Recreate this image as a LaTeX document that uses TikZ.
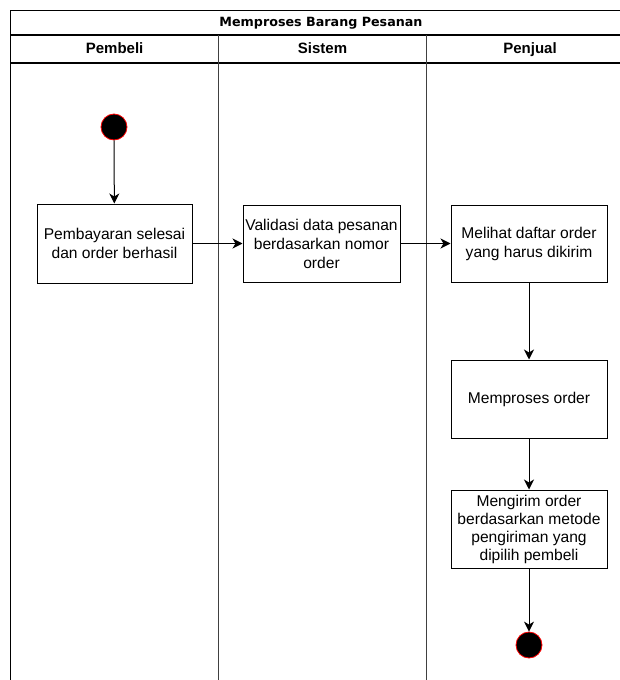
\documentclass[tikz,border=0pt]{standalone}
\usepackage{fontspec}
\setmainfont{Liberation Sans}
\newfontfamily\titlefont{DejaVu Sans}
\usetikzlibrary{arrows.meta}
\begin{document}
\begin{tikzpicture}[x=1pt,y=-1pt,
  frame/.style={draw=black, line width=1.3pt},
  lane/.style={draw=black!75, line width=1.1pt},
  action/.style={draw=black, line width=1pt, fill=white, minimum width=156pt, minimum height=78pt,
    inner sep=0pt, align=center, font=\fontsize{15.6pt}{19pt}\selectfont},
  lanehead/.style={font=\fontsize{15pt}{18pt}\selectfont\bfseries, text height=11pt, text depth=3.5pt, inner sep=0pt},
  startend/.style={circle, fill=black, draw=red, line width=0.8pt, minimum size=26pt, inner sep=0pt},
  flow/.style={draw=black, line width=1pt, -{Stealth[length=10pt, width=10pt, inset=3pt]}}
]
\clip (0,0) rectangle (620,680);
\fill[white] (0,0) rectangle (620,680);

% pool frame, title row and lane header row
\draw[frame] (10.7,10.7) rectangle (634,700);
\draw[frame] (10.7,35) -- (634,35);
\draw[frame] (10.7,63) -- (634,63);
\draw[lane] (218.6,35) -- (218.6,700);
\draw[lane] (426.3,35) -- (426.3,700);

\node[font=\titlefont\fontsize{12.7pt}{15pt}\selectfont\bfseries] (title) at (321,23) {Memproses Barang Pesanan};
\node[lanehead] (h1) at (114.6,49.5) {Pembeli};
\node[lanehead] (h2) at (322.5,49.5) {Sistem};
\node[lanehead] (h3) at (530,49.5) {Penjual};

% activity nodes
\node[startend] (start) at (114,127) {};
\node[action, minimum width=155pt, minimum height=79pt] (bayar) at (114.5,243.5) {Pembayaran selesai\\dan order berhasil};
\node[action, minimum width=157pt, minimum height=77pt] (validasi) at (321.5,243.5) {Validasi data pesanan\\berdasarkan nomor\\order};
\node[action, minimum width=156pt, minimum height=77pt] (lihat) at (529,243.5) {Melihat daftar order\\yang harus dikirim};
\node[action, minimum width=156pt, minimum height=78pt] (proses) at (529,399) {Memproses order};
\node[action, minimum width=156pt, minimum height=78pt, font=\fontsize{15.6pt}{18pt}\selectfont] (kirim) at (529,529) {Mengirim order\\berdasarkan metode\\pengiriman yang\\dipilih pembeli};
\node[startend] (end) at (529,645) {};

% control flow
\draw[flow] (start) -- (bayar);
\draw[flow] (bayar) -- (validasi);
\draw[flow] (validasi) -- (lihat);
\draw[flow] (lihat) -- (proses);
\draw[flow] (proses) -- (kirim);
\draw[flow] (kirim) -- (end);
\end{tikzpicture}
\end{document}
